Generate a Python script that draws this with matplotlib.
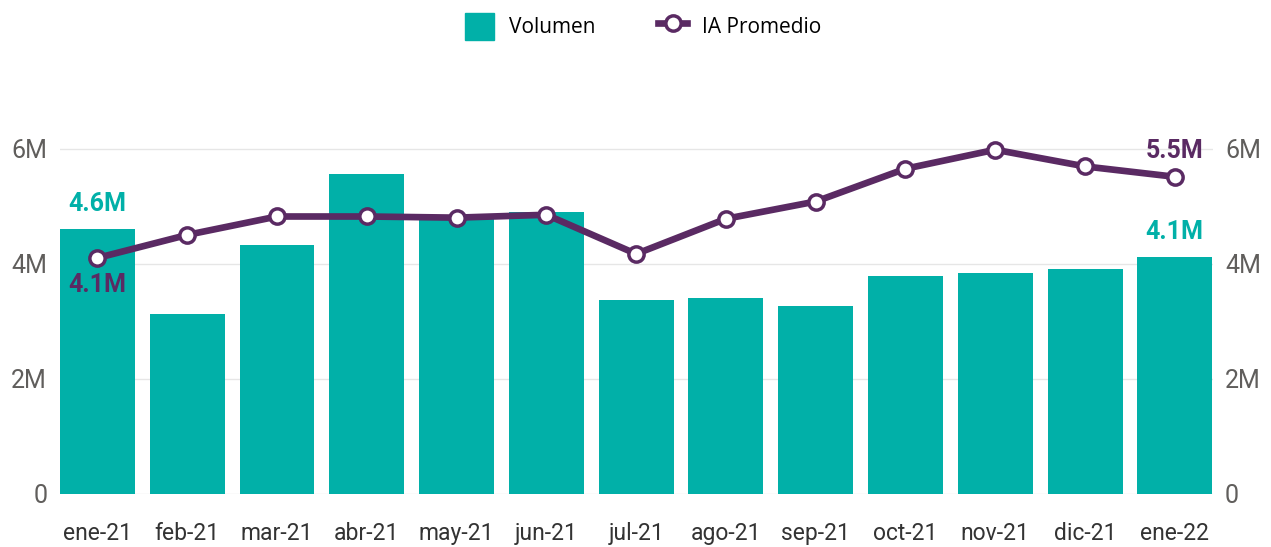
"""Volumen vs IA Promedio, monthly."""
import matplotlib
matplotlib.use('Agg')
import numpy as np
import matplotlib.pyplot as plt
from matplotlib.lines import Line2D
from matplotlib.patches import Patch
from matplotlib.ticker import FuncFormatter


MONTHS = ['ene-21', 'feb-21', 'mar-21', 'abr-21', 'may-21', 'jun-21',
          'jul-21', 'ago-21', 'sep-21', 'oct-21', 'nov-21', 'dic-21', 'ene-22']
VOLUMEN = [4.61, 3.13, 4.33, 5.55, 4.80, 4.90,
           3.37, 3.41, 3.27, 3.79, 3.83, 3.90, 4.12]
IA_PROMEDIO = [4.10, 4.50, 4.82, 4.82, 4.80, 4.85,
               4.17, 4.78, 5.08, 5.65, 5.98, 5.69, 5.51]
Y_TICKS = [0, 2, 4, 6]

TEAL = '#01B0A8'
PURPLE = '#5A2A63'
GREY = '#605E5C'

plt.rcParams['font.family'] = ['Roboto', 'DejaVu Sans']


def millions(v, _pos):
    return '0' if v == 0 else f'{v:.0f}M'


fig = plt.figure(figsize=(12.71, 5.47), dpi=100)
ax = fig.add_axes([0.047, 0.097, 0.907, 0.684])
ax2 = ax.twinx()

x = np.arange(len(MONTHS))
ax.bar(x, VOLUMEN, width=0.835, color=TEAL, zorder=2)
ax2.plot(x, IA_PROMEDIO, color=PURPLE, lw=4.8, marker='o', ms=11,
         mfc='white', mec=PURPLE, mew=2.5, zorder=3)

for a in (ax, ax2):
    a.set_ylim(0, 6.5)
    a.set_yticks(Y_TICKS)
    a.yaxis.set_major_formatter(FuncFormatter(millions))
    a.tick_params(axis='y', length=0, labelsize=18, labelcolor=GREY, pad=9)
    for s in a.spines.values():
        s.set_visible(False)
ax.set_xlim(-0.42, len(MONTHS) - 0.58)
ax.set_xticks(x)
ax.set_xticklabels(MONTHS)
ax.tick_params(axis='x', length=0, labelsize=16.5, labelcolor='#333333', pad=20)
ax.grid(axis='y', color='#E6E6E6', lw=1, zorder=0)
ax.set_axisbelow(True)

# data labels for first and last points
lab = dict(fontsize=18, fontweight='bold', family=['Roboto', 'DejaVu Sans'],
           ha='center')
ax.annotate(f'{VOLUMEN[0]:.1f}M', (x[0], VOLUMEN[0]), xytext=(0, 9),
            textcoords='offset points', va='bottom', color=TEAL, **lab)
ax.annotate(f'{VOLUMEN[-1]:.1f}M', (x[-1], VOLUMEN[-1]), xytext=(0, 9),
            textcoords='offset points', va='bottom', color=TEAL, **lab)
ax2.annotate(f'{IA_PROMEDIO[0]:.1f}M', (x[0], IA_PROMEDIO[0]), xytext=(0, -11),
             textcoords='offset points', va='top', color=PURPLE, **lab)
ax2.annotate(f'{IA_PROMEDIO[-1]:.1f}M', (x[-1], IA_PROMEDIO[-1]), xytext=(0, 10),
             textcoords='offset points', va='bottom', color=PURPLE, **lab)

handles = [
    Patch(color=TEAL, label='Volumen'),
    Line2D([], [], color=PURPLE, lw=4.8, marker='o', ms=11, mfc='white',
           mec=PURPLE, mew=2.5, label='IA Promedio'),
]
fig.legend(handles=handles, loc='center', bbox_to_anchor=(0.506, 0.952), ncol=2,
           frameon=False, handlelength=1.4, handleheight=1.6,
           columnspacing=3.0, handletextpad=0.7,
           prop={'family': ['Open Sans', 'DejaVu Sans'], 'size': 15})

fig.savefig('out.png', dpi=100)
